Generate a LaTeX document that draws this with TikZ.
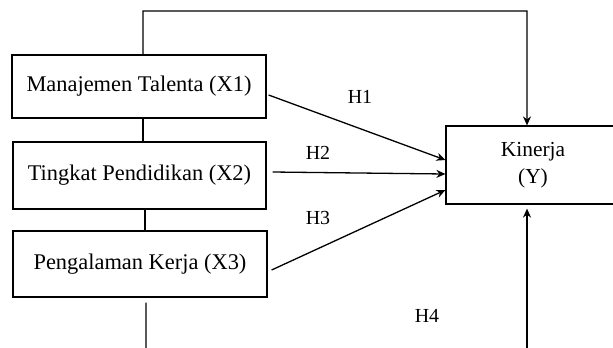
\documentclass[tikz,border=0pt]{standalone}
\usepackage{fontspec}
\setmainfont{Liberation Serif}
\usetikzlibrary{arrows.meta,calc}
\begin{document}
\begin{tikzpicture}[x=1bp,y=-1bp,
  line width=1.3bp,
  varbox/.style={draw, line width=1.2bp, inner sep=0pt, align=center,
    font=\fontsize{22.5}{26}\selectfont},
  hlabel/.style={font=\fontsize{20}{23}\selectfont},
  arr/.style={-{Stealth[length=9bp,width=8bp]}}]
\useasboundingbox (0,0) rectangle (613,347);
\node[varbox, minimum width=254bp, minimum height=63bp] (x1) at (139,86.5) {Manajemen Talenta (X1)};
\node[varbox, minimum width=253bp, minimum height=67bp] (x2) at (139.5,175.5) {Tingkat Pendidikan (X2)};
\node[varbox, minimum width=254bp, minimum height=66bp] (x3) at (140,264) {Pengalaman Kerja (X3)};
\node[varbox, minimum width=174bp, minimum height=78bp, font=\fontsize{21.5}{27}\selectfont] (y) at (533,165) {Kinerja\\(Y)};
\coordinate (topL) at (143,11);
\coordinate (topR) at (527,11);
\coordinate (botA) at (146,352);
\coordinate (botB) at (527,352);
% vertical links between boxes
\draw ([xshift=4bp]x1.south) -- ([xshift=4bp]x1.south |- x2.north);
\draw ([xshift=5.5bp]x2.south) -- ([xshift=5.5bp]x2.south |- x3.north);
\draw ([xshift=6bp,yshift=-5bp]x3.south) -- (botA);
% top loop to Kinerja
\draw[arr] ([xshift=4bp]x1.north) -- (topL) -- (topR) -- (topR |- y.north);
% H4 arrow from below
\draw[arr] (botB) -- ([yshift=-4bp]botB |- y.south);
% H1-H3
\draw[arr] ($(x1.east)+(2,8.5)$) -- ($(y.west)+(0,-5)$);
\draw[arr] ($(x2.east)+(6,-3.5)$) -- ($(y.west)+(0,9)$);
\draw[arr] ($(x3.east)+(4,6)$) -- ($(y.west)+(0,25)$);
\node[hlabel] (h1) at (360,97) {H1};
\node[hlabel] (h2) at (318,153) {H2};
\node[hlabel] (h3) at (318,218) {H3};
\node[hlabel] (h4) at (427,316) {H4};
\end{tikzpicture}
\end{document}
